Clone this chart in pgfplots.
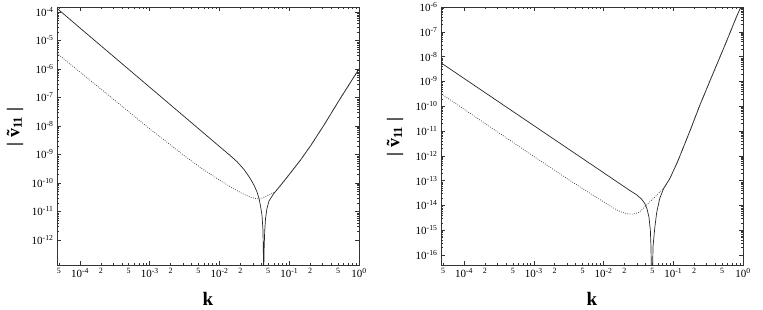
\documentclass[border=0pt]{standalone}
\usepackage{fontspec}
\setmainfont{Liberation Serif}
\usepackage{pgfplots}
\pgfplotsset{compat=1.18}

\pgfplotsset{
  kplot/.style={
    scale only axis,
    width=302pt, height=258pt,
    xmin=4.68e-5, xmax=1,
    axis line style={line width=0.6pt, black!80},
    every tick/.style={black!80, line width=0.5pt},
    tick align=inside,
    major tick length=4.2pt, minor tick length=2.4pt,
    tick label style={font=\fontsize{11}{13}\selectfont},
    /pgf/number format/assume math mode=true,
    xtick={1e-4,1e-3,1e-2,1e-1,1},
    xticklabels={10\textsuperscript{-4},10\textsuperscript{-3},10\textsuperscript{-2},10\textsuperscript{-1},10\textsuperscript{0}},
    extra x ticks={5e-5,2e-4,5e-4,2e-3,5e-3,2e-2,5e-2,2e-1,5e-1},
    extra x tick labels={5,2,5,2,5,2,5,2,5},
    extra x tick style={major tick length=2.4pt,
      tick label style={font=\fontsize{8}{9}\selectfont}},
    xlabel={\bfseries k},
    xlabel style={font=\fontsize{19}{21}\selectfont, at={(axis description cs:0.5,-0.158)}, anchor=base, inner sep=0pt},
    ylabel={\bfseries |\;\~{v}\textsubscript{11}\;|},
    ylabel style={font=\fontsize{18}{20}\selectfont, anchor=center, rotate=0},
  },
  solidc/.style={line width=0.7pt, black!85},
  dotc/.style={line width=0.7pt, black!75, dash pattern=on 0.8pt off 1.4pt},
}

\begin{document}
\begin{tikzpicture}
\useasboundingbox (-57pt,-44pt) rectangle (706pt,265pt);

% left panel
\begin{loglogaxis}[kplot,
  at={(0pt,0pt)}, anchor=south west,
  ymin=1.32e-13, ymax=1.5e-4,
  ytick={1e-12,1e-11,1e-10,1e-9,1e-8,1e-7,1e-6,1e-5,1e-4},
  yticklabels={10\textsuperscript{-12},10\textsuperscript{-11},10\textsuperscript{-10},10\textsuperscript{-9},10\textsuperscript{-8},10\textsuperscript{-7},10\textsuperscript{-6},10\textsuperscript{-5},10\textsuperscript{-4}},
  ylabel style={at={(axis description cs:-0.139,0.535)}},
]
\addplot[solidc] coordinates {
  (4.68e-5,1.349e-4) (1e-4,2.754e-5) (3.162e-4,2.512e-6) (1e-3,2.291e-7)
  (3.162e-3,2.089e-8) (5.623e-3,6.310e-9) (1e-2,1.905e-9) (1.413e-2,9.333e-10)
  (1.778e-2,5.623e-10) (2.239e-2,3.020e-10) (2.754e-2,1.445e-10) (3.162e-2,7.943e-11)
  (3.467e-2,4.677e-11) (3.715e-2,2.630e-11) (3.890e-2,1.479e-11) (4.074e-2,7.079e-12)
  (4.198e-2,2.239e-12) (4.246e-2,5.012e-13) (4.276e-2,1e-13) (4.295e-2,1e-15)
  (4.315e-2,1e-13) (4.365e-2,5.012e-13) (4.446e-2,1.995e-12) (4.571e-2,5.623e-12)
  (4.786e-2,1.259e-11) (5.129e-2,2.344e-11) (5.888e-2,3.981e-11) (6.310e-2,4.898e-11)
  (6.761e-2,6.026e-11) (8.318e-2,1.122e-10) (0.1047,2.291e-10) (0.1445,6.310e-10)
  (0.2042,2.089e-9) (0.3162,1.096e-8) (0.5495,1e-7) (1,1e-6)
};
\addplot[dotc] coordinates {
  (4.68e-5,3.548e-6) (1e-4,7.762e-7) (3.162e-4,7.943e-8) (1e-3,7.943e-9)
  (3.162e-3,8.913e-10) (5.623e-3,3.162e-10) (1e-2,1.259e-10) (1.585e-2,6.310e-11)
  (2.239e-2,3.981e-11) (2.818e-2,3.162e-11) (3.311e-2,2.818e-11) (3.802e-2,2.754e-11)
  (4.365e-2,3.162e-11) (4.898e-2,3.631e-11) (5.495e-2,4.169e-11) (6.310e-2,4.898e-11)
  (6.761e-2,6.026e-11) (8.318e-2,1.122e-10) (0.1047,2.291e-10) (0.1445,6.310e-10)
  (0.2042,2.089e-9) (0.3162,1.096e-8) (0.5495,1e-7) (1,1e-6)
};
\end{loglogaxis}

% right panel
\begin{loglogaxis}[kplot,
  at={(384pt,0pt)}, anchor=south west,
  ymin=3.98e-17, ymax=1e-6,
  ytick={1e-16,1e-15,1e-14,1e-13,1e-12,1e-11,1e-10,1e-9,1e-8,1e-7,1e-6},
  yticklabels={10\textsuperscript{-16},10\textsuperscript{-15},10\textsuperscript{-14},10\textsuperscript{-13},10\textsuperscript{-12},10\textsuperscript{-11},10\textsuperscript{-10},10\textsuperscript{-9},10\textsuperscript{-8},10\textsuperscript{-7},10\textsuperscript{-6}},
  ylabel style={at={(axis description cs:-0.152,0.496)}},
]
\addplot[solidc] coordinates {
  (4.68e-5,5.623e-9) (1e-4,1.324e-9) (3.162e-4,1.486e-10) (1e-3,1.667e-11)
  (3.162e-3,1.871e-12) (1e-2,2.099e-13) (1.585e-2,8.75e-14) (2.366e-2,4.074e-14)
  (2.951e-2,2.754e-14) (3.483e-2,1.862e-14) (3.890e-2,1.230e-14) (4.198e-2,7.413e-15)
  (4.487e-2,3.388e-15) (4.699e-2,9.772e-16) (4.797e-2,2.089e-16) (4.943e-2,1e-18)
  (5.129e-2,2.188e-16) (5.420e-2,1.175e-15) (5.794e-2,5.248e-15) (6.397e-2,1.905e-14)
  (7.295e-2,4.898e-14) (8.913e-2,1.202e-13) (0.1161,6.026e-13) (0.1750,1.072e-11)
  (0.2404,1.096e-10) (0.3581,1.622e-9) (0.5508,2.884e-8) (0.7943,3.631e-7)
  (1,1.585e-6)
};
\addplot[dotc] coordinates {
  (4.68e-5,3.236e-10) (1e-4,7.586e-11) (3.162e-4,8.511e-12) (1e-3,9.550e-13)
  (3.162e-3,1.096e-13) (6.310e-3,3.162e-14) (1e-2,1.413e-14) (1.259e-2,9.333e-15)
  (1.585e-2,6.457e-15) (1.905e-2,5.129e-15) (2.239e-2,4.571e-15) (2.630e-2,4.467e-15)
  (3.162e-2,5.129e-15) (3.681e-2,7.413e-15) (4.592e-2,1.380e-14) (5.129e-2,1.862e-14)
  (5.728e-2,2.512e-14) (6.310e-2,3.311e-14) (7.295e-2,4.898e-14) (8.913e-2,1.202e-13)
  (0.1161,6.026e-13) (0.1750,1.072e-11) (0.2404,1.096e-10) (0.3581,1.622e-9)
  (0.5508,2.884e-8) (0.7943,3.631e-7) (1,1.585e-6)
};
\end{loglogaxis}
\end{tikzpicture}
\end{document}
